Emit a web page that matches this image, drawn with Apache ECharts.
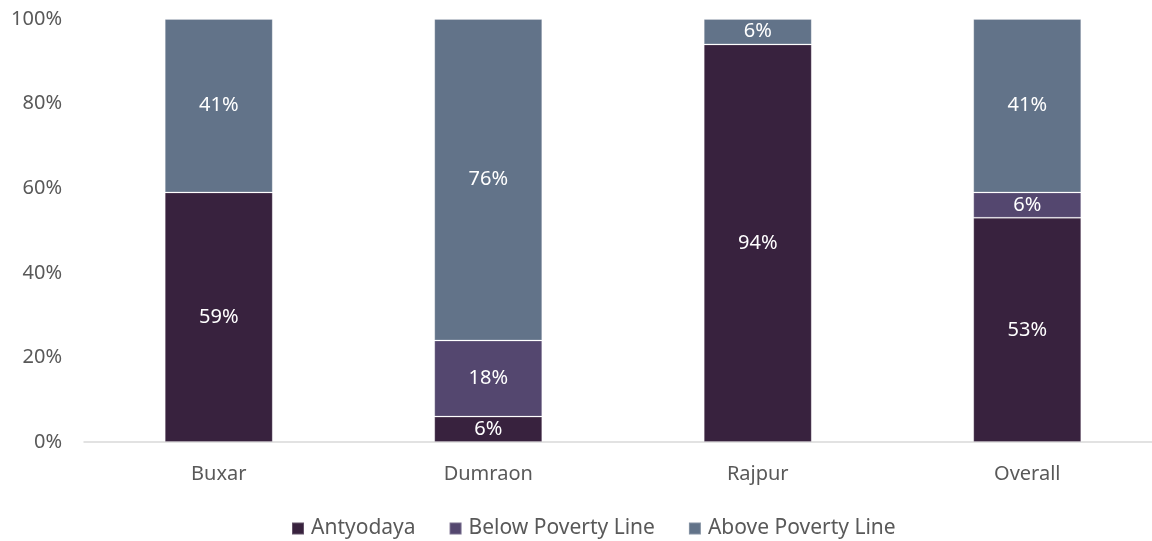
<!DOCTYPE html>
<html>
<head>
<meta charset="utf-8">
<script src="https://cdn.jsdelivr.net/npm/echarts@6/dist/echarts.min.js"></script>
<style>
  html, body { margin: 0; padding: 0; background: #ffffff; }
  #chart { width: 1152px; height: 541px; }
</style>
</head>
<body>
<div id="chart"></div>
<script>
// Ration card category share by block
const categories = ['Buxar', 'Dumraon', 'Rajpur', 'Overall'];
const antyodaya = [59, 6, 94, 53];
const belowPovertyLine = [0, 18, 0, 6];
const abovePovertyLine = [41, 76, 6, 41];
const yTicks = [0, 20, 40, 60, 80, 100];

const FONT = '"Noto Sans", "Open Sans", sans-serif';
const colors = ['#38223E', '#54476F', '#627389'];

function seg(name, data, color) {
  return {
    name: name,
    type: 'bar',
    stack: 'total',
    barWidth: 108,
    data: data,
    itemStyle: { color: color, borderColor: 'rgba(255,255,255,0.22)', borderWidth: 1 },
    label: {
      show: true,
      position: 'inside',
      color: '#ffffff',
      fontFamily: FONT,
      fontSize: 20,
      formatter: p => (p.value > 0 ? p.value + '%' : '')
    },
    emphasis: { disabled: true }
  };
}

const chart = echarts.init(document.getElementById('chart'));
chart.setOption({
  animation: false,
  color: colors,
  grid: { left: 84, top: 19, width: 1078, height: 423, containLabel: false, outerBoundsMode: 'none' },
  legend: {
    top: 513,
    left: 286,
    itemWidth: 12,
    itemHeight: 12,
    itemGap: 33,
    icon: 'rect',
    textStyle: { color: '#595959', fontFamily: FONT, fontSize: 21, padding: [0, 0, 0, 2] },
    data: ['Antyodaya', 'Below Poverty Line', 'Above Poverty Line']
  },
  xAxis: {
    type: 'category',
    data: categories,
    axisLine: { lineStyle: { color: '#D9D9D9', width: 1.5 } },
    axisTick: { show: false },
    axisLabel: { color: '#595959', fontFamily: FONT, fontSize: 20, margin: 22 }
  },
  yAxis: {
    type: 'value',
    min: yTicks[0],
    max: yTicks[yTicks.length - 1],
    interval: 20,
    splitLine: { show: false },
    axisLine: { show: false },
    axisTick: { show: false },
    axisLabel: { color: '#595959', fontFamily: FONT, fontSize: 20, margin: 22, formatter: '{value}%' }
  },
  series: [
    seg('Antyodaya', antyodaya, colors[0]),
    seg('Below Poverty Line', belowPovertyLine, colors[1]),
    seg('Above Poverty Line', abovePovertyLine, colors[2])
  ]
});
</script>
</body>
</html>
